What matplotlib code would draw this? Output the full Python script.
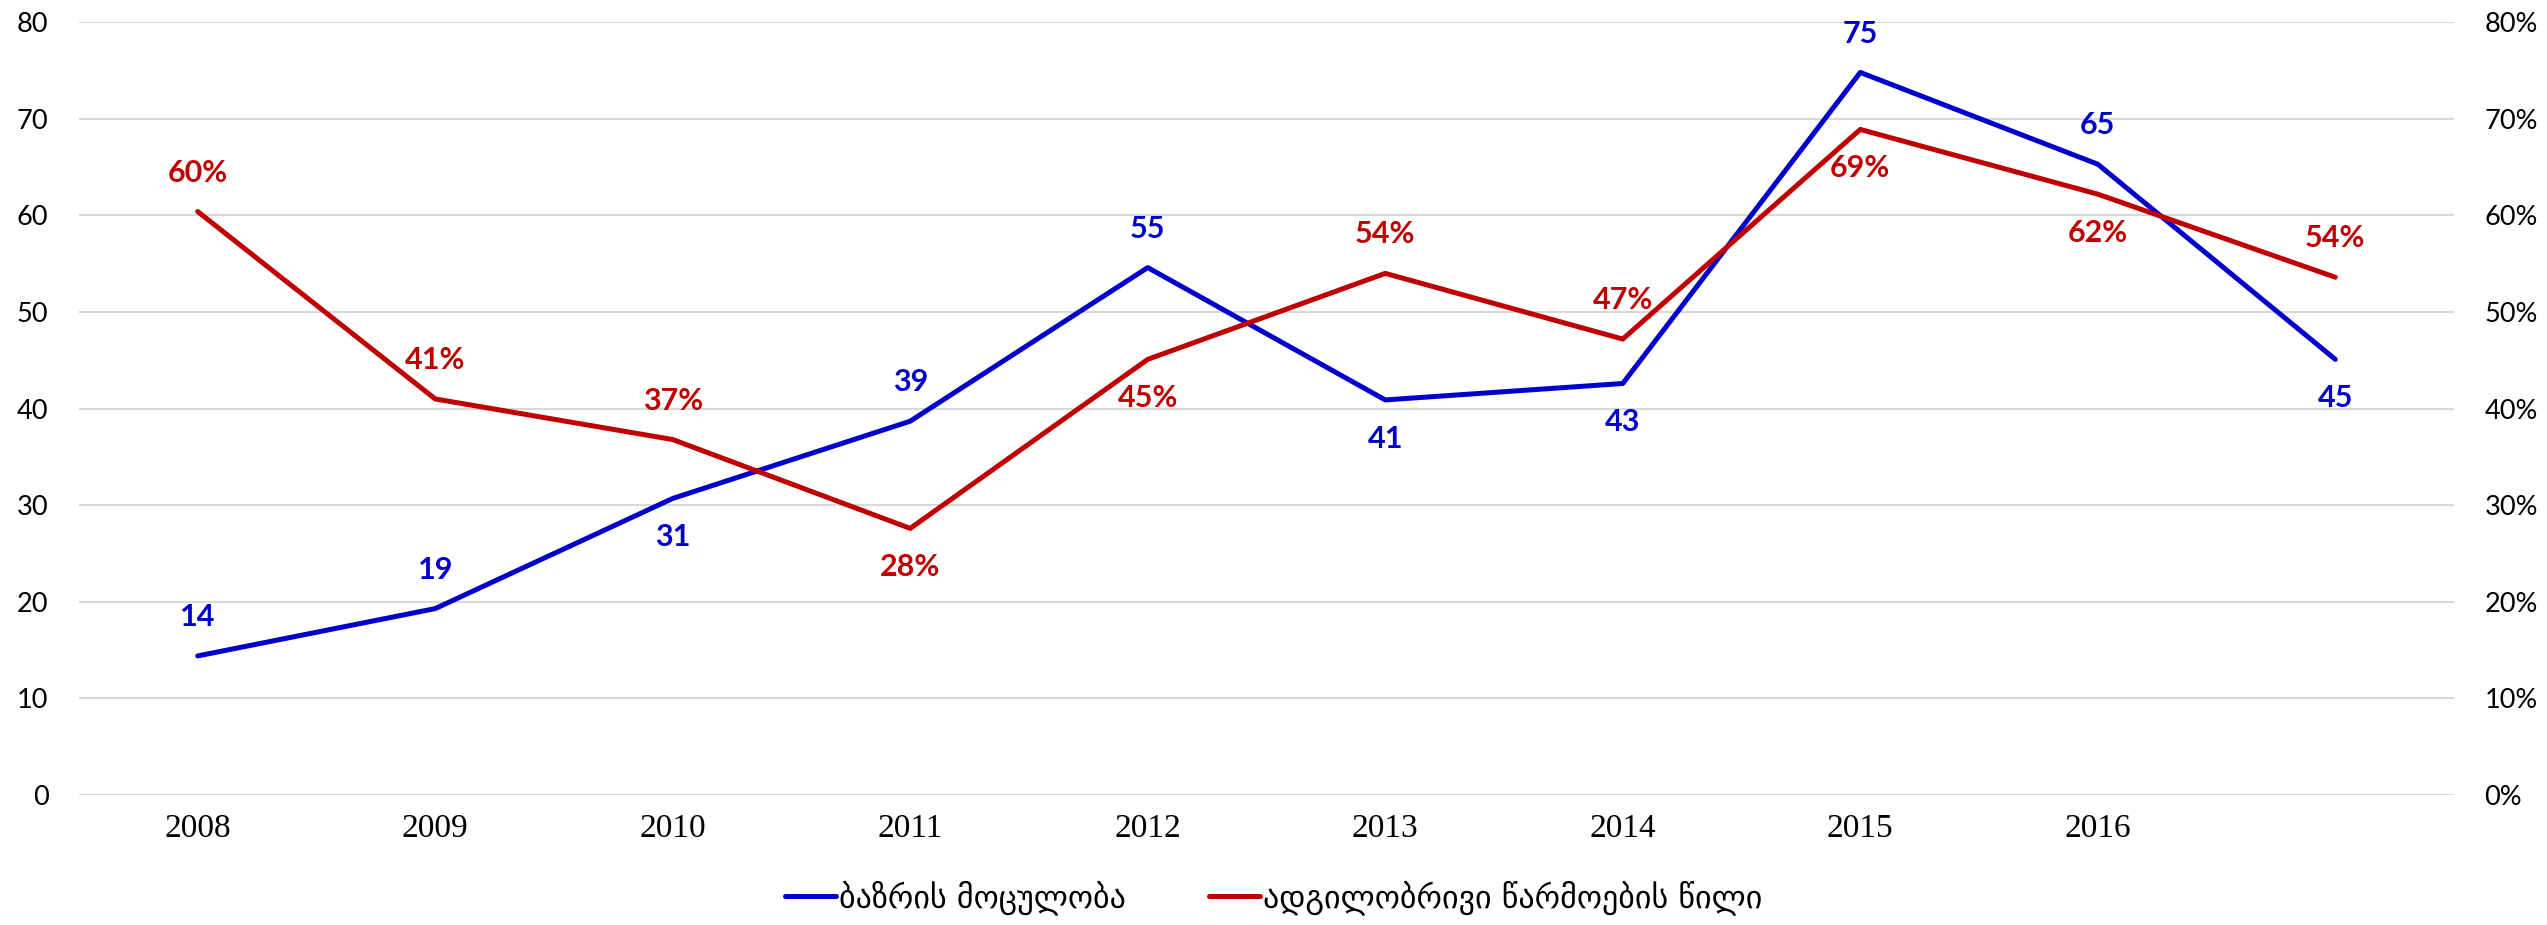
import matplotlib
matplotlib.use("Agg")
import matplotlib.pyplot as plt
from matplotlib.ticker import FuncFormatter

years = ["2008", "2009", "2010", "2011", "2012", "2013", "2014", "2015", "2016", ""]
market = [14.4, 19.3, 30.7, 38.7, 54.6, 40.9, 42.6, 74.8, 65.3, 45.1]
market_labels = ["14", "19", "31", "39", "55", "41", "43", "75", "65", "45"]
market_pos = [1, 1, -1, 1, 1, -1, -1, 1, 1, -1]
share = [60.4, 41.0, 36.8, 27.6, 45.1, 54.0, 47.2, 68.9, 62.2, 53.6]
share_labels = ["60%", "41%", "37%", "28%", "45%", "54%", "47%", "69%", "62%", "54%"]
share_pos = [1, 1, 1, -1, -1, 1, 1, -1, -1, 1]
legend_names = ["ბაზრის მოცულობა", "ადგილობრივი წარმოების წილი"]

BLUE = "#0000CC"
RED = "#C00000"

fig = plt.figure(figsize=(25.47, 9.25), dpi=100)
ax = fig.add_axes([0.031, 0.1405, 0.9325, 0.8355])
ax2 = ax.twinx()

x = list(range(len(years)))
l1, = ax.plot(x, market, color=BLUE, lw=3.6, solid_capstyle="round", zorder=3)
l2, = ax2.plot(x, share, color=RED, lw=3.6, solid_capstyle="round", zorder=3)

ax.set_xlim(-0.5, len(years) - 0.5)
ax.set_ylim(0, 80)
ax2.set_ylim(0, 80)
ax.set_yticks(range(0, 81, 10))
ax2.set_yticks(range(0, 81, 10))
ax2.yaxis.set_major_formatter(FuncFormatter(lambda v, p: f"{int(v)}%"))
ax.set_xticks(x)
ax.set_xticklabels(years, fontfamily="Liberation Serif", fontsize=24)

for a in (ax, ax2):
    for s in a.spines.values():
        s.set_visible(False)
    a.tick_params(length=0)
ax.tick_params(axis="y", labelsize=19.5, pad=22)
ax2.tick_params(axis="y", labelsize=19.5, pad=22)
ax.tick_params(axis="x", pad=13)
for lab in ax.get_yticklabels() + ax2.get_yticklabels():
    lab.set_fontfamily("Lato")

ax.grid(axis="y", color="#D9D9D9", lw=1.5)
ax.set_axisbelow(True)

for i in x:
    ax.annotate(market_labels[i], (i, market[i]), xytext=(0, 28 * market_pos[i]),
                textcoords="offset points", ha="center", va="center",
                color=BLUE, fontsize=22, fontweight="bold", fontfamily="Lato", zorder=5)
    ax2.annotate(share_labels[i], (i, share[i]), xytext=(0, 28 * share_pos[i]),
                 textcoords="offset points", ha="center", va="center",
                 color=RED, fontsize=22, fontweight="bold", fontfamily="Lato", zorder=5)

fig.legend([l1, l2], legend_names, loc="center", bbox_to_anchor=(0.5, 0.03),
           ncol=2, frameon=False, handlelength=1.6, handletextpad=0.1,
           columnspacing=2.6, prop={"family": "DejaVu Sans", "size": 23})

fig.savefig("out.png", dpi=100)
